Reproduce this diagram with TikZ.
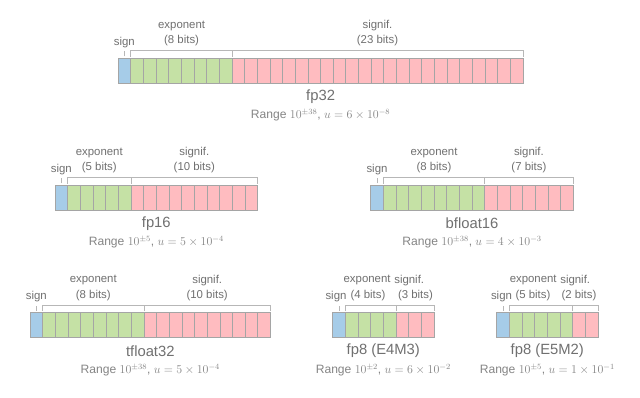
\documentclass[tikz,border=0pt]{standalone}
\usepackage{fontspec}
\setmainfont{Liberation Sans}
\definecolor{signc}{RGB}{166,204,232}
\definecolor{expc}{RGB}{197,225,165}
\definecolor{sigc}{RGB}{255,188,192}
\definecolor{edgec}{RGB}{165,165,165}
\definecolor{txtc}{RGB}{112,112,112}
\tikzset{
  cellbox/.style={draw=edgec, line width=0.8pt},
  brk/.style={draw=edgec!80, line width=0.7pt},
  lbl/.style={text=txtc, font=\fontsize{11.4}{13}\selectfont, inner sep=0pt},
  ttl/.style={text=txtc, font=\fontsize{14.8}{17}\selectfont, inner sep=0pt},
  rng/.style={text=txtc!85, font=\fontsize{12.1}{14}\selectfont, inner sep=0pt},
}
\newcommand\fmtbar[4]{%
  \pgfmathsetmacro\cw{12.66}%
  \pgfmathsetmacro\xa{#1+\cw}%
  \pgfmathsetmacro\xb{#1+(1+#3)*\cw}%
  \pgfmathsetmacro\xc{#1+(1+#3+#4)*\cw}%
  \pgfmathsetmacro\yb{#2+25}%
  \pgfmathsetmacro\ybt{#2-7.6}%
  \pgfmathsetmacro\ybb{#2-1.6}%
  \pgfmathsetmacro\xs{#1+\cw/2}%
  \fill[signc] (#1,#2) rectangle (\xa,\yb);
  \fill[expc] (\xa,#2) rectangle (\xb,\yb);
  \fill[sigc] (\xb,#2) rectangle (\xc,\yb);
  \pgfmathtruncatemacro\ncell{1+#3+#4}%
  \foreach \i in {1,...,\ncell}{%
    \draw[cellbox] ({#1+(\i-1)*\cw},#2) rectangle ({#1+\i*\cw},\yb);
  }
  \draw[brk] (\xs,#2-2) -- (\xs,#2-7);
  \draw[brk] (\xa,\ybb) -- (\xa,\ybt) -- (\xb,\ybt) -- (\xb,\ybb);
  \draw[brk] (\xb,\ybb) -- (\xb,\ybt) -- (\xc,\ybt) -- (\xc,\ybb);
}
\begin{document}
\begin{tikzpicture}[x=1pt,y=-1pt]
\useasboundingbox[fill=white] (0,0) rectangle (640,398);
% fp32
\fmtbar{118}{58.3}{8}{23}
\node[lbl] (s32) at (124.3,42.3) {sign};
\node[lbl] (e32) at (181.6,26) {exponent};
\node[lbl] (eb32) at (181.6,41) {(8 bits)};
\node[lbl] (m32) at (377.5,26) {signif.};
\node[lbl] (mb32) at (377.5,41) {(23 bits)};
\node[ttl] (t32) at (320.6,96.5) {fp32};
\node[rng] (r32) at (320.6,115.5) {Range $10^{\pm 38}$, $u = 6\times 10^{-8}$};
% fp16
\fmtbar{55}{185.3}{5}{10}
\node[lbl] (s16) at (61.3,169.3) {sign};
\node[lbl] (e16) at (99.3,153) {exponent};
\node[lbl] (eb16) at (99.3,168) {(5 bits)};
\node[lbl] (m16) at (194.3,153) {signif.};
\node[lbl] (mb16) at (194.3,168) {(10 bits)};
\node[ttl] (t16) at (156.3,223.5) {fp16};
\node[rng] (r16) at (156.3,242.5) {Range $10^{\pm 5}$, $u = 5\times 10^{-4}$};
% bfloat16
\fmtbar{370.7}{185.3}{8}{7}
\node[lbl] (sbf) at (377,169.3) {sign};
\node[lbl] (ebf) at (434,153) {exponent};
\node[lbl] (ebbf) at (434,168) {(8 bits)};
\node[lbl] (mbf) at (528.9,153) {signif.};
\node[lbl] (mbbf) at (528.9,168) {(7 bits)};
\node[ttl] (tbf) at (472,223.5) {bfloat16};
\node[rng] (rbf) at (472,242.5) {Range $10^{\pm 38}$, $u = 4\times 10^{-3}$};
% tfloat32
\fmtbar{30}{312.7}{8}{10}
\node[lbl] (stf) at (36.3,296.7) {sign};
\node[lbl] (etf) at (93.3,280.4) {exponent};
\node[lbl] (ebtf) at (93.3,295.4) {(8 bits)};
\node[lbl] (mtf) at (207.2,280.4) {signif.};
\node[lbl] (mbtf) at (207.2,295.4) {(10 bits)};
\node[ttl] (ttf) at (150.3,350.9) {tfloat32};
\node[rng] (rtf) at (150.3,369.9) {Range $10^{\pm 38}$, $u = 5\times 10^{-4}$};
% fp8 E4M3
\fmtbar{332.7}{312.7}{4}{3}
\node[lbl] (s43) at (336,296.7) {sign};
\node[lbl] (e43) at (367.1,280.4) {exponent};
\node[lbl] (eb43) at (368,295.4) {(4 bits)};
\node[lbl] (m43) at (409.2,280.4) {signif.};
\node[lbl] (mb43) at (415.5,295.4) {(3 bits)};
\node[ttl] (t43) at (383.3,350.9) {fp8 (E4M3)};
\node[rng] (r43) at (383.3,369.9) {Range $10^{\pm 2}$, $u = 6\times 10^{-2}$};
% fp8 E5M2
\fmtbar{496.7}{312.7}{5}{2}
\node[lbl] (s52) at (501.5,296.7) {sign};
\node[lbl] (e52) at (533.2,280.4) {exponent};
\node[lbl] (eb52) at (533,295.4) {(5 bits)};
\node[lbl] (m52) at (575.2,280.4) {signif.};
\node[lbl] (mb52) at (579,295.4) {(2 bits)};
\node[ttl] (t52) at (547.3,350.9) {fp8 (E5M2)};
\node[rng] (r52) at (547.3,369.9) {Range $10^{\pm 5}$, $u = 1\times 10^{-1}$};
\end{tikzpicture}
\end{document}
